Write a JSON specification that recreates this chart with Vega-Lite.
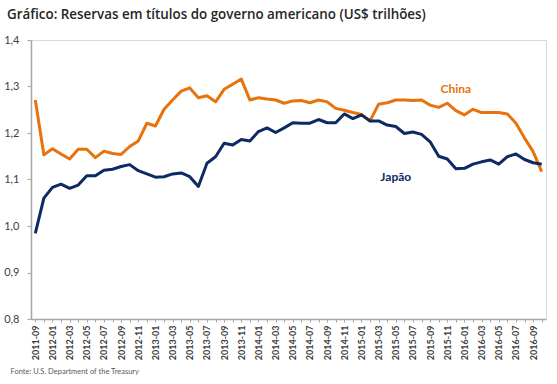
{
  "$schema": "https://vega.github.io/schema/vega-lite/v6.json",
  "width": 515,
  "height": 279,
  "autosize": {"type": "none"},
  "padding": {"left": 31, "top": 40, "right": 11, "bottom": 65},
  "background": "white",
  "config": {"view": {"stroke": "#D9D9D9", "strokeWidth": 1}, "font": "Lato"},
  "title": {"text": "Gráfico: Reservas em títulos do governo americano (US$ trilhões)", "anchor": "start", "frame": "group", "dx": -24, "offset": 13, "fontSize": 13.4, "fontWeight": 600, "color": "#262626", "font": "Open Sans"},
  "datasets": {
    "serie": [
      {"mes": "2011-09", "pais": "China", "valor": 1.271}, {"mes": "2011-12", "pais": "China", "valor": 1.153}, {"mes": "2012-01", "pais": "China", "valor": 1.166}, {"mes": "2012-02", "pais": "China", "valor": 1.155}, {"mes": "2012-03", "pais": "China", "valor": 1.144}, {"mes": "2012-04", "pais": "China", "valor": 1.165}, {"mes": "2012-05", "pais": "China", "valor": 1.165}, {"mes": "2012-06", "pais": "China", "valor": 1.147}, {"mes": "2012-07", "pais": "China", "valor": 1.161}, {"mes": "2012-08", "pais": "China", "valor": 1.156},
      {"mes": "2012-09", "pais": "China", "valor": 1.154}, {"mes": "2012-10", "pais": "China", "valor": 1.171}, {"mes": "2012-11", "pais": "China", "valor": 1.183}, {"mes": "2012-12", "pais": "China", "valor": 1.221}, {"mes": "2013-01", "pais": "China", "valor": 1.215}, {"mes": "2013-02", "pais": "China", "valor": 1.251}, {"mes": "2013-03", "pais": "China", "valor": 1.271}, {"mes": "2013-04", "pais": "China", "valor": 1.290}, {"mes": "2013-05", "pais": "China", "valor": 1.297}, {"mes": "2013-06", "pais": "China", "valor": 1.276},
      {"mes": "2013-07", "pais": "China", "valor": 1.280}, {"mes": "2013-08", "pais": "China", "valor": 1.267}, {"mes": "2013-09", "pais": "China", "valor": 1.294}, {"mes": "2013-10", "pais": "China", "valor": 1.305}, {"mes": "2013-11", "pais": "China", "valor": 1.316}, {"mes": "2013-12", "pais": "China", "valor": 1.271}, {"mes": "2014-01", "pais": "China", "valor": 1.276}, {"mes": "2014-02", "pais": "China", "valor": 1.273}, {"mes": "2014-03", "pais": "China", "valor": 1.271}, {"mes": "2014-04", "pais": "China", "valor": 1.264},
      {"mes": "2014-05", "pais": "China", "valor": 1.269}, {"mes": "2014-06", "pais": "China", "valor": 1.270}, {"mes": "2014-07", "pais": "China", "valor": 1.265}, {"mes": "2014-08", "pais": "China", "valor": 1.271}, {"mes": "2014-09", "pais": "China", "valor": 1.267}, {"mes": "2014-10", "pais": "China", "valor": 1.253}, {"mes": "2014-11", "pais": "China", "valor": 1.249}, {"mes": "2014-12", "pais": "China", "valor": 1.244}, {"mes": "2015-01", "pais": "China", "valor": 1.240}, {"mes": "2015-02", "pais": "China", "valor": 1.226},
      {"mes": "2015-03", "pais": "China", "valor": 1.262}, {"mes": "2015-04", "pais": "China", "valor": 1.265}, {"mes": "2015-05", "pais": "China", "valor": 1.271}, {"mes": "2015-06", "pais": "China", "valor": 1.271}, {"mes": "2015-07", "pais": "China", "valor": 1.270}, {"mes": "2015-08", "pais": "China", "valor": 1.271}, {"mes": "2015-09", "pais": "China", "valor": 1.260}, {"mes": "2015-10", "pais": "China", "valor": 1.255}, {"mes": "2015-11", "pais": "China", "valor": 1.264}, {"mes": "2015-12", "pais": "China", "valor": 1.248},
      {"mes": "2016-01", "pais": "China", "valor": 1.239}, {"mes": "2016-02", "pais": "China", "valor": 1.251}, {"mes": "2016-03", "pais": "China", "valor": 1.244}, {"mes": "2016-04", "pais": "China", "valor": 1.244}, {"mes": "2016-05", "pais": "China", "valor": 1.244}, {"mes": "2016-06", "pais": "China", "valor": 1.241}, {"mes": "2016-07", "pais": "China", "valor": 1.221}, {"mes": "2016-08", "pais": "China", "valor": 1.189}, {"mes": "2016-09", "pais": "China", "valor": 1.160}, {"mes": "2016-10", "pais": "China", "valor": 1.117},
      {"mes": "2011-09", "pais": "Japão", "valor": 0.984}, {"mes": "2011-12", "pais": "Japão", "valor": 1.060}, {"mes": "2012-01", "pais": "Japão", "valor": 1.083}, {"mes": "2012-02", "pais": "Japão", "valor": 1.090}, {"mes": "2012-03", "pais": "Japão", "valor": 1.081}, {"mes": "2012-04", "pais": "Japão", "valor": 1.088}, {"mes": "2012-05", "pais": "Japão", "valor": 1.108}, {"mes": "2012-06", "pais": "Japão", "valor": 1.108}, {"mes": "2012-07", "pais": "Japão", "valor": 1.120}, {"mes": "2012-08", "pais": "Japão", "valor": 1.122},
      {"mes": "2012-09", "pais": "Japão", "valor": 1.128}, {"mes": "2012-10", "pais": "Japão", "valor": 1.132}, {"mes": "2012-11", "pais": "Japão", "valor": 1.119}, {"mes": "2012-12", "pais": "Japão", "valor": 1.112}, {"mes": "2013-01", "pais": "Japão", "valor": 1.105}, {"mes": "2013-02", "pais": "Japão", "valor": 1.106}, {"mes": "2013-03", "pais": "Japão", "valor": 1.112}, {"mes": "2013-04", "pais": "Japão", "valor": 1.114}, {"mes": "2013-05", "pais": "Japão", "valor": 1.106}, {"mes": "2013-06", "pais": "Japão", "valor": 1.085},
      {"mes": "2013-07", "pais": "Japão", "valor": 1.135}, {"mes": "2013-08", "pais": "Japão", "valor": 1.149}, {"mes": "2013-09", "pais": "Japão", "valor": 1.178}, {"mes": "2013-10", "pais": "Japão", "valor": 1.174}, {"mes": "2013-11", "pais": "Japão", "valor": 1.186}, {"mes": "2013-12", "pais": "Japão", "valor": 1.183}, {"mes": "2014-01", "pais": "Japão", "valor": 1.203}, {"mes": "2014-02", "pais": "Japão", "valor": 1.211}, {"mes": "2014-03", "pais": "Japão", "valor": 1.201}, {"mes": "2014-04", "pais": "Japão", "valor": 1.211},
      {"mes": "2014-05", "pais": "Japão", "valor": 1.222}, {"mes": "2014-06", "pais": "Japão", "valor": 1.221}, {"mes": "2014-07", "pais": "Japão", "valor": 1.221}, {"mes": "2014-08", "pais": "Japão", "valor": 1.229}, {"mes": "2014-09", "pais": "Japão", "valor": 1.222}, {"mes": "2014-10", "pais": "Japão", "valor": 1.222}, {"mes": "2014-11", "pais": "Japão", "valor": 1.241}, {"mes": "2014-12", "pais": "Japão", "valor": 1.231}, {"mes": "2015-01", "pais": "Japão", "valor": 1.239}, {"mes": "2015-02", "pais": "Japão", "valor": 1.226},
      {"mes": "2015-03", "pais": "Japão", "valor": 1.226}, {"mes": "2015-04", "pais": "Japão", "valor": 1.217}, {"mes": "2015-05", "pais": "Japão", "valor": 1.214}, {"mes": "2015-06", "pais": "Japão", "valor": 1.199}, {"mes": "2015-07", "pais": "Japão", "valor": 1.202}, {"mes": "2015-08", "pais": "Japão", "valor": 1.197}, {"mes": "2015-09", "pais": "Japão", "valor": 1.181}, {"mes": "2015-10", "pais": "Japão", "valor": 1.150}, {"mes": "2015-11", "pais": "Japão", "valor": 1.144}, {"mes": "2015-12", "pais": "Japão", "valor": 1.123},
      {"mes": "2016-01", "pais": "Japão", "valor": 1.124}, {"mes": "2016-02", "pais": "Japão", "valor": 1.133}, {"mes": "2016-03", "pais": "Japão", "valor": 1.138}, {"mes": "2016-04", "pais": "Japão", "valor": 1.142}, {"mes": "2016-05", "pais": "Japão", "valor": 1.133}, {"mes": "2016-06", "pais": "Japão", "valor": 1.149}, {"mes": "2016-07", "pais": "Japão", "valor": 1.155}, {"mes": "2016-08", "pais": "Japão", "valor": 1.143}, {"mes": "2016-09", "pais": "Japão", "valor": 1.136}, {"mes": "2016-10", "pais": "Japão", "valor": 1.133}
    ],
    "rotulos": [
      {"mes": "2015-12", "pais": "China", "valor": 1.295, "rotulo": "China"},
      {"mes": "2015-05", "pais": "Japão", "valor": 1.105, "rotulo": "Japão"}
    ]
  },
  "layer": [
    {
      "data": {"name": "serie"},
      "mark": {"type": "line", "strokeWidth": 3, "strokeJoin": "round"},
      "encoding": {
        "x": {
          "field": "mes", "type": "ordinal", "sort": null,
          "scale": {"domain": ["2011-09","2011-12","2012-01","2012-02","2012-03","2012-04","2012-05","2012-06","2012-07","2012-08","2012-09","2012-10","2012-11","2012-12","2013-01","2013-02","2013-03","2013-04","2013-05","2013-06","2013-07","2013-08","2013-09","2013-10","2013-11","2013-12","2014-01","2014-02","2014-03","2014-04","2014-05","2014-06","2014-07","2014-08","2014-09","2014-10","2014-11","2014-12","2015-01","2015-02","2015-03","2015-04","2015-05","2015-06","2015-07","2015-08","2015-09","2015-10","2015-11","2015-12","2016-01","2016-02","2016-03","2016-04","2016-05","2016-06","2016-07","2016-08","2016-09","2016-10"]},
          "axis": {
            "title": "Fonte: U.S. Department of the Treasury",
            "titleAnchor": "start", "titleAlign": "left", "titleX": -21, "titleY": 52, "titleBaseline": "middle",
            "titleFontSize": 7.5, "titleFontWeight": "normal", "titleColor": "#595959", "titleFont": "Lato",
            "labelAngle": -90, "labelFontSize": 9, "labelFontWeight": "bold", "labelColor": "#404040", "labelPadding": 3,
            "labelExpr": "toNumber(slice(datum.value, 5)) % 2 == 1 ? datum.value : ''",
            "labelOverlap": false,
            "tickSize": 3, "tickColor": "#A6A6A6", "domainColor": "#A6A6A6", "domainWidth": 1.5, "grid": false
          }
        },
        "y": {
          "field": "valor", "type": "quantitative",
          "scale": {"domain": [0.8, 1.4], "nice": false, "zero": false},
          "axis": {
            "title": null, "values": [0.8, 0.9, 1.0, 1.1, 1.2, 1.3, 1.4],
            "labelExpr": "replace(format(datum.value, '.1f'), '.', ',')",
            "labelFontSize": 11, "labelColor": "#404040", "labelPadding": 8,
            "tickSize": 4, "tickColor": "#A6A6A6", "domainColor": "#A6A6A6", "domainWidth": 1.5, "grid": false
          }
        },
        "color": {
          "field": "pais", "type": "nominal",
          "scale": {"domain": ["China", "Japão"], "range": ["#E8720C", "#0E2A64"]},
          "legend": null
        }
      }
    },
    {
      "data": {"name": "rotulos"},
      "mark": {"type": "text", "fontSize": 12, "fontWeight": "bold", "font": "Lato", "align": "center", "baseline": "middle"},
      "encoding": {
        "x": {"field": "mes", "type": "ordinal", "sort": null},
        "y": {"field": "valor", "type": "quantitative"},
        "text": {"field": "rotulo"},
        "color": {"field": "pais", "type": "nominal", "legend": null}
      }
    }
  ]
}
